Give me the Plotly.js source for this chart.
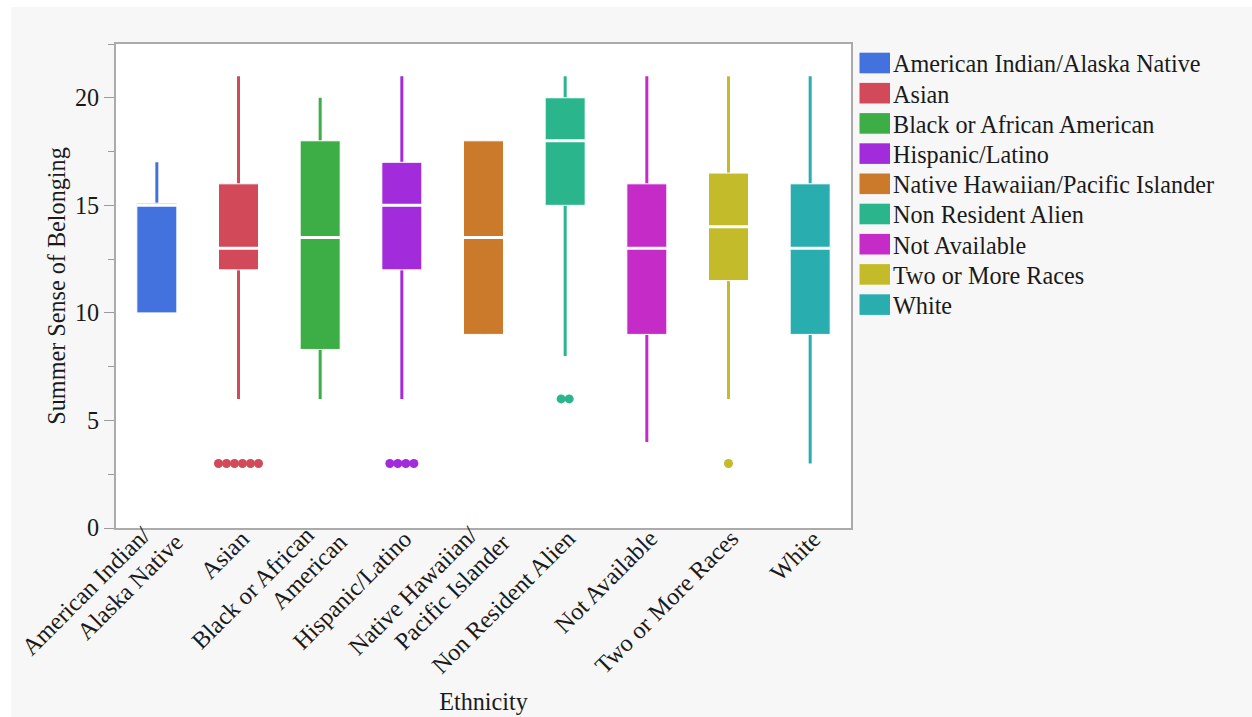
<!DOCTYPE html>
<html>
<head>
<meta charset="utf-8">
<script src="https://cdn.plot.ly/plotly-3.0.1.min.js"></script>
<style>
  html, body { margin: 0; padding: 0; background: #ffffff; width: 1252px; height: 717px; overflow: hidden; }
  #chart { position: absolute; left: 11px; top: 7px; width: 1241px; height: 710px; }
</style>
</head>
<body>
<div id="chart"></div>
<script>
// ---- Data ----
const categories = ['American Indian/Alaska Native', 'Asian', 'Black or African American', 'Hispanic/Latino',
  'Native Hawaiian/Pacific Islander', 'Non Resident Alien', 'Not Available', 'Two or More Races', 'White'];
const tickLabels = ['American Indian/<br>Alaska Native', 'Asian', 'Black or African<br>American', 'Hispanic/Latino',
  'Native Hawaiian/<br>Pacific Islander', 'Non Resident Alien', 'Not Available', 'Two or More Races', 'White'];
const q1Values = [10, 12, 8.3, 12, 9, 15, 9, 11.5, 9];
const medianValues = [15, 13, 13.5, 15, 13.5, 18, 13, 14, 13];
const q3Values = [15.1, 16, 18, 17, 18, 20, 16, 16.5, 16];
const lowerWhiskers = [10, 6, 6, 6, 9, 8, 4, 6, 3];
const upperWhiskers = [17, 21, 20, 21, 18, 21, 21, 21, 21];
const outlierValues = [[], [3, 3, 3, 3, 3, 3], [], [3, 3, 3, 3], [], [6, 6], [], [3], []];
const colors = ['#4372DE', '#D24A59', '#3DAE46', '#A22BDB', '#CB792B', '#2AB58D', '#C52BC6', '#C4BB2B', '#29ADAF'];

// ---- Style ----
const FONT = 'Liberation Serif, Times New Roman, serif';
const TXT = '#1a1a1a';
const FS = 24.2;
const BOXW = 0.49;
const DOT_STEP = 0.098;

const traces = [];
categories.forEach((cat, i) => {
  // whiskers (box collapsed to the median, covered by the filled box)
  traces.push({
    type: 'box', name: cat, x: [i],
    q1: [medianValues[i]], median: [medianValues[i]], q3: [medianValues[i]],
    lowerfence: [lowerWhiskers[i]], upperfence: [upperWhiskers[i]],
    width: BOXW, whiskerwidth: 0, boxpoints: false,
    line: { color: colors[i], width: 3 }, fillcolor: colors[i],
    hoverinfo: 'skip', showlegend: false
  });
  // filled box
  traces.push({
    type: 'box', name: cat, x: [i],
    q1: [q1Values[i]], median: [medianValues[i]], q3: [q3Values[i]],
    lowerfence: [q1Values[i]], upperfence: [q3Values[i]],
    width: BOXW, whiskerwidth: 0, boxpoints: false,
    line: { color: '#ffffff', width: 1 }, fillcolor: colors[i],
    showlegend: false
  });
  // white median line
  traces.push({
    type: 'box', name: cat, x: [i],
    q1: [medianValues[i]], median: [medianValues[i]], q3: [medianValues[i]],
    lowerfence: [medianValues[i]], upperfence: [medianValues[i]],
    width: BOXW, whiskerwidth: 0, boxpoints: false,
    line: { color: '#ffffff', width: 3 }, fillcolor: 'rgba(0,0,0,0)',
    hoverinfo: 'skip', showlegend: false
  });
  // outliers
  const pts = outlierValues[i];
  if (pts.length) {
    traces.push({
      type: 'scatter', mode: 'markers', name: cat,
      x: pts.map((v, k) => i + (k - (pts.length - 1) / 2) * DOT_STEP),
      y: pts,
      marker: { color: colors[i], size: 9 },
      showlegend: false
    });
  }
});

// ---- Layout geometry ----
const W = 1241, H = 710;
const M = { l: 105, r: 401, t: 37, b: 189 };
const pw = W - M.l - M.r, ph = H - M.t - M.b;
const px2x = px => (px - M.l) / pw;
const py2y = py => (H - M.b - py) / ph;

const shapes = [];
const annotations = [];

// legend drawn as colour swatches + text
const LEG_X0 = 848.5, LEG_W = 30.5, LEG_Y0 = 45.7, LEG_H = 20.6, LEG_STEP = 30.2;
categories.forEach((cat, i) => {
  const top = LEG_Y0 + i * LEG_STEP;
  shapes.push({
    type: 'rect', xref: 'paper', yref: 'paper',
    x0: px2x(LEG_X0), x1: px2x(LEG_X0 + LEG_W),
    y0: py2y(top + LEG_H), y1: py2y(top),
    fillcolor: colors[i], line: { width: 0 }
  });
  annotations.push({
    xref: 'paper', yref: 'paper', x: px2x(LEG_X0 + LEG_W + 1), y: py2y(top + LEG_H / 2 + 0.8),
    xanchor: 'left', yanchor: 'middle', showarrow: false,
    text: cat, font: { family: FONT, size: FS, color: TXT }
  });
});

// rotated category labels (each line placed like the reference's wrapped labels)
const LBL_XS = 18, LBL_YS = 6, LINE_DX = 32.5, LINE_DY = 7.1;
tickLabels.forEach((lbl, i) => {
  const lines = lbl.split('<br>');
  lines.forEach((ln, j) => {
    const off = j - (lines.length - 1) / 2;
    annotations.push({
      xref: 'x', yref: 'paper', x: i, y: 0,
      xanchor: 'right', yanchor: 'top', textangle: -45, showarrow: false,
      xshift: LBL_XS + off * LINE_DX, yshift: LBL_YS - off * LINE_DY,
      text: ln, font: { family: FONT, size: FS, color: TXT }
    });
  });
});

const layout = {
  width: W, height: H,
  margin: M,
  paper_bgcolor: '#f7f7f7',
  plot_bgcolor: '#ffffff',
  boxmode: 'overlay',
  showlegend: false,
  font: { family: FONT, size: FS, color: TXT },
  xaxis: {
    range: [-0.5, 8.5],
    tickmode: 'array', tickvals: categories.map((c, i) => i), ticktext: tickLabels,
    showticklabels: false, ticks: '',
    showline: true, mirror: true, linecolor: '#ababab', linewidth: 2,
    showgrid: false, zeroline: false,
    title: { text: 'Ethnicity', standoff: 164, font: { family: FONT, size: FS, color: TXT } }
  },
  yaxis: {
    range: [0, 22.5], dtick: 5, tick0: 0,
    ticks: 'outside', ticklen: 10, tickwidth: 1, tickcolor: '#9a9a9a',
    minor: { dtick: 2.5, ticks: 'outside', ticklen: 6, tickwidth: 1, tickcolor: '#9a9a9a', showgrid: false },
    showline: true, mirror: true, linecolor: '#ababab', linewidth: 2,
    showgrid: false, zeroline: false,
    tickfont: { family: FONT, size: FS, color: TXT },
    title: { text: 'Summer Sense of Belonging', standoff: 3, font: { family: FONT, size: FS, color: TXT } }
  },
  shapes: shapes,
  annotations: annotations
};

Plotly.newPlot('chart', traces, layout, { displayModeBar: false, staticPlot: true });
</script>
</body>
</html>
